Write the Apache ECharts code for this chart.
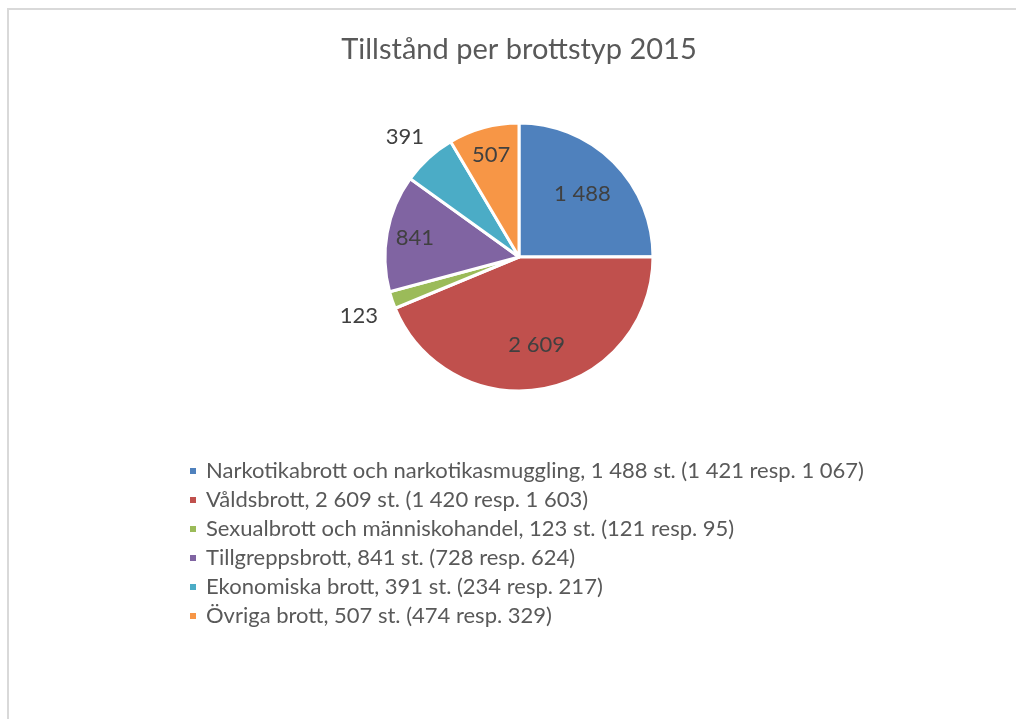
<!DOCTYPE html>
<html>
<head>
<meta charset="utf-8">
<script src="https://cdn.jsdelivr.net/npm/echarts@6/dist/echarts.min.js"></script>
<style>
  html, body { margin: 0; padding: 0; background: #fff; }
  #chart { width: 1016px; height: 719px; }
</style>
</head>
<body>
<div id="chart"></div>
<script>
// Tillstånd per brottstyp 2015 - pie with legend below

const categories = [
    'Narkotikabrott och narkotikasmuggling',
    'Våldsbrott',
    'Sexualbrott och människohandel',
    'Tillgreppsbrott',
    'Ekonomiska brott',
    'Övriga brott'
];
const values2015 = [1488, 2609, 123, 841, 391, 507];
const values2014 = [1421, 1420, 121, 728, 234, 474];
const values2013 = [1067, 1603, 95, 624, 217, 329];
const colors = ['#4F81BD', '#C0504D', '#9BBB59', '#8064A2', '#4BACC6', '#F79646'];
const outsideLabels = ['Sexualbrott och människohandel', 'Ekonomiska brott'];

const FONT = 'Lato, "Open Sans", sans-serif';
const center = [519, 257];
const radius = 134;
const total = values2015.reduce((a, b) => a + b, 0);

const fmt = n => String(n).replace(/\B(?=(\d{3})+(?!\d))/g, ' ');

const chart = echarts.init(document.getElementById('chart'));

// move a label so its centre sits at `dist` from the pie centre along direction (ux, uy)
function placeRadial(rect, ux, uy, dist, extraDy) {
    const cx = rect.x + rect.width / 2;
    const cy = rect.y + rect.height / 2;
    return {
        dx: center[0] + ux * dist - cx,
        dy: center[1] + uy * dist - cy + (extraDy || 0)
    };
}

const option = {
    animation: false,
    title: {
        text: 'Tillstånd per brottstyp 2015',
        left: 514,
        textAlign: 'center',
        top: 30,
        textStyle: { fontFamily: FONT, fontSize: 29, fontWeight: 'normal', color: '#595959' }
    },
    graphic: [{
        type: 'rect',
        shape: { x: 8, y: 9, width: 1020, height: 720 },
        style: { fill: 'none', stroke: '#d9d9d9', lineWidth: 2 },
        silent: true
    }],
    legend: {
        orient: 'vertical',
        left: 188,
        top: 460,
        padding: 0,
        icon: 'rect',
        itemWidth: 8,
        itemHeight: 8,
        itemGap: 7,
        selectedMode: false,
        data: categories,
        formatter: name => {
            const i = categories.indexOf(name);
            return `${name}, ${fmt(values2015[i])} st. (${fmt(values2014[i])} resp. ${fmt(values2013[i])})`;
        },
        textStyle: { fontFamily: FONT, fontSize: 22, lineHeight: 20, color: '#595959', padding: [0, 0, 0, 4] }
    },
    series: [{
        type: 'pie',
        center: center,
        radius: radius,
        startAngle: 90,
        clockwise: true,
        avoidLabelOverlap: false,
        emphasis: { disabled: true },
        itemStyle: { borderColor: '#fff', borderWidth: 3 },
        label: {
            show: true,
            position: 'inside',
            fontFamily: FONT,
            fontSize: 22,
            color: '#404040',
            formatter: p => fmt(p.value)
        },
        labelLine: { show: false },
        labelLayout: params => {
            const r = params.labelRect;
            const idx = params.dataIndex;
            const outside = outsideLabels.includes(categories[idx]);
            let vx, vy;
            if (outside && params.labelLinePoints) {
                // first point of the (hidden) label line lies on the slice's mid-angle
                vx = params.labelLinePoints[0][0] - center[0];
                vy = params.labelLinePoints[0][1] - center[1];
            } else {
                vx = r.x + r.width / 2 - center[0];
                vy = r.y + r.height / 2 - center[1];
            }
            const len = Math.sqrt(vx * vx + vy * vy) || 1;
            if (outside) return placeRadial(r, vx / len, vy / len, radius + 35, 5);
            // narrow slices get their label nearer the rim
            const share = values2015[idx] / total;
            return placeRadial(r, vx / len, vy / len, radius * (share < 0.2 ? 0.79 : 0.67));
        },
        data: categories.map((name, i) => {
            const item = {
                name: name,
                value: values2015[i],
                itemStyle: { color: colors[i] }
            };
            if (outsideLabels.includes(name)) {
                item.label = { position: 'outside' };
                item.labelLine = { show: false, length: 10, length2: 0 };
            }
            return item;
        })
    }]
};

chart.setOption(option);
</script>
</body>
</html>
